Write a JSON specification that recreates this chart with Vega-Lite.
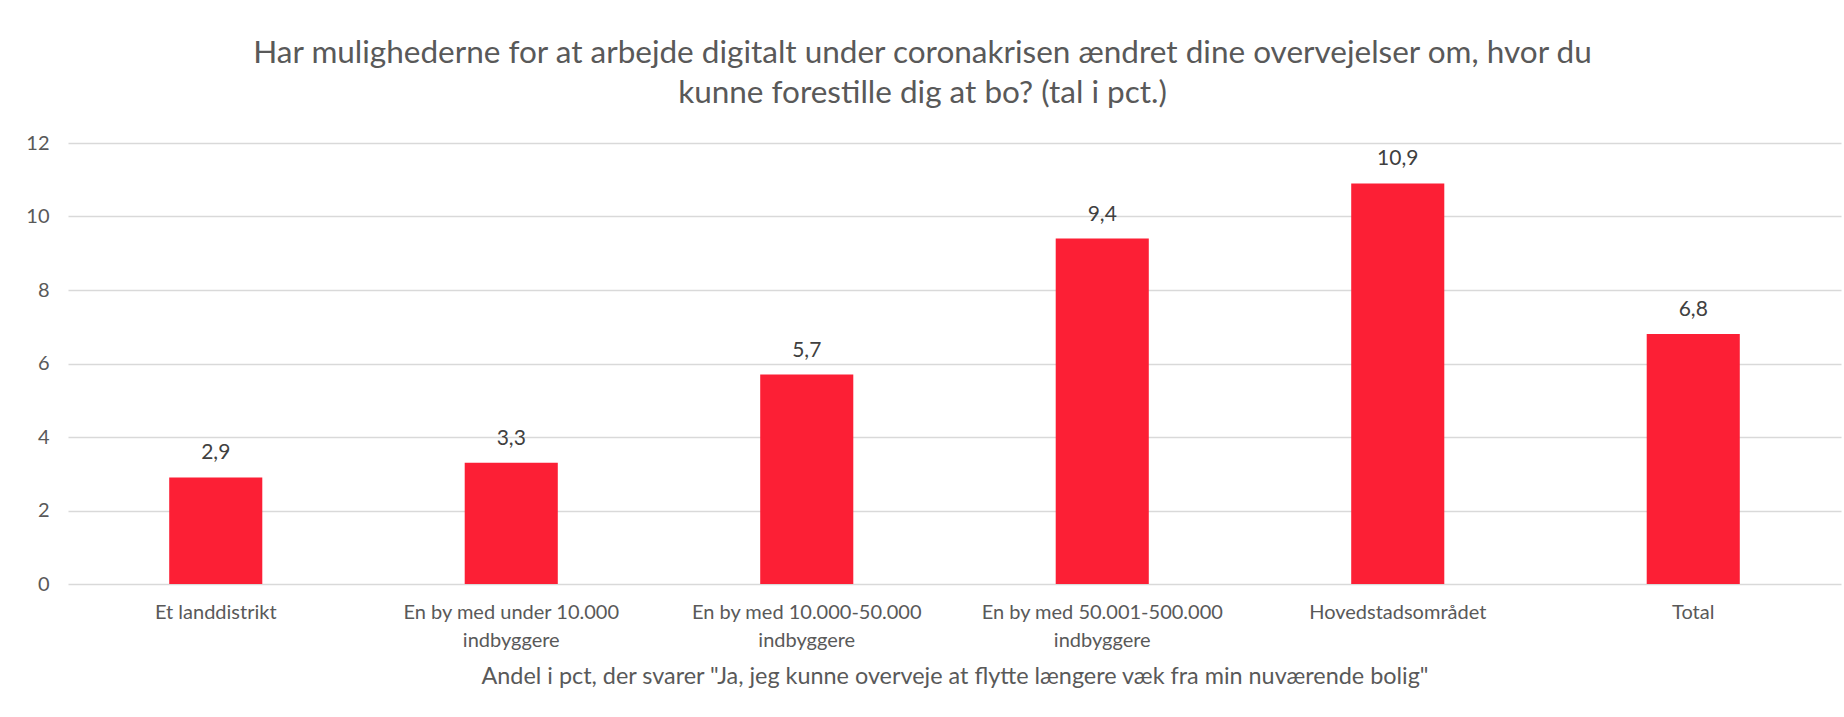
{
  "$schema": "https://vega.github.io/schema/vega-lite/v6.json",
  "autosize": "none",
  "width": 1773,
  "height": 441,
  "padding": {"left": 68, "top": 143, "right": 3, "bottom": 133},
  "background": "white",
  "config": {
    "locale": {"number": {"decimal": ",", "thousands": ".", "grouping": [3], "currency": ["", " kr."]}},
    "font": "Lato",
    "view": {"stroke": null}
  },
  "title": {
    "text": ["Har mulighederne for at arbejde digitalt under coronakrisen ændret dine overvejelser om, hvor du", "kunne forestille dig at bo? (tal i pct.)"],
    "font": "Lato",
    "fontSize": 31.5,
    "fontWeight": "normal",
    "color": "#595959",
    "anchor": "middle",
    "lineHeight": 40,
    "dx": -32,
    "offset": 24
  },
  "data": {
    "values": [
      {"omraade": "Et landdistrikt", "andel": 2.9},
      {"omraade": "En by med under 10.000 indbyggere", "andel": 3.3},
      {"omraade": "En by med 10.000-50.000 indbyggere", "andel": 5.7},
      {"omraade": "En by med 50.001-500.000 indbyggere", "andel": 9.4},
      {"omraade": "Hovedstadsområdet", "andel": 10.9},
      {"omraade": "Total", "andel": 6.8}
    ]
  },
  "encoding": {
    "x": {
      "field": "omraade",
      "type": "nominal",
      "sort": null,
      "scale": {"paddingInner": 0.685, "paddingOuter": 0.3425},
      "axis": {
        "title": "Andel i pct, der svarer \"Ja, jeg kunne overveje at flytte længere væk fra min nuværende bolig\"",
        "titleFont": "Lato",
        "titleFontSize": 23.4,
        "titleFontWeight": "normal",
        "titleColor": "#595959",
        "titlePadding": 15,
        "labelAngle": 0,
        "labelFont": "Lato",
        "labelFontSize": 20,
        "labelColor": "#595959",
        "labelPadding": 18,
        "labelLineHeight": 28,
        "labelLimit": 400,
        "labelExpr": "indexof(datum.label, ' indbyggere') > 0 ? [replace(datum.label, ' indbyggere', ''), 'indbyggere'] : datum.label",
        "ticks": false,
        "tickSize": 0,
        "domain": false,
        "grid": false
      }
    },
    "y": {
      "field": "andel",
      "type": "quantitative",
      "scale": {"domain": [0, 12], "nice": false},
      "axis": {
        "title": null,
        "values": [0, 2, 4, 6, 8, 10, 12],
        "labelFont": "Lato",
        "labelFontSize": 20,
        "labelColor": "#595959",
        "labelPadding": 19,
        "ticks": false,
        "tickSize": 0,
        "domain": false,
        "grid": true,
        "gridColor": "#d9d9d9",
        "gridWidth": 1.5
      }
    }
  },
  "layer": [
    {"mark": {"type": "bar", "color": "#fc1f35"}},
    {
      "mark": {"type": "text", "baseline": "alphabetic", "dy": -18, "font": "Lato", "fontSize": 21, "color": "#404040"},
      "encoding": {"text": {"field": "andel", "type": "quantitative", "format": ".1f"}}
    }
  ]
}
